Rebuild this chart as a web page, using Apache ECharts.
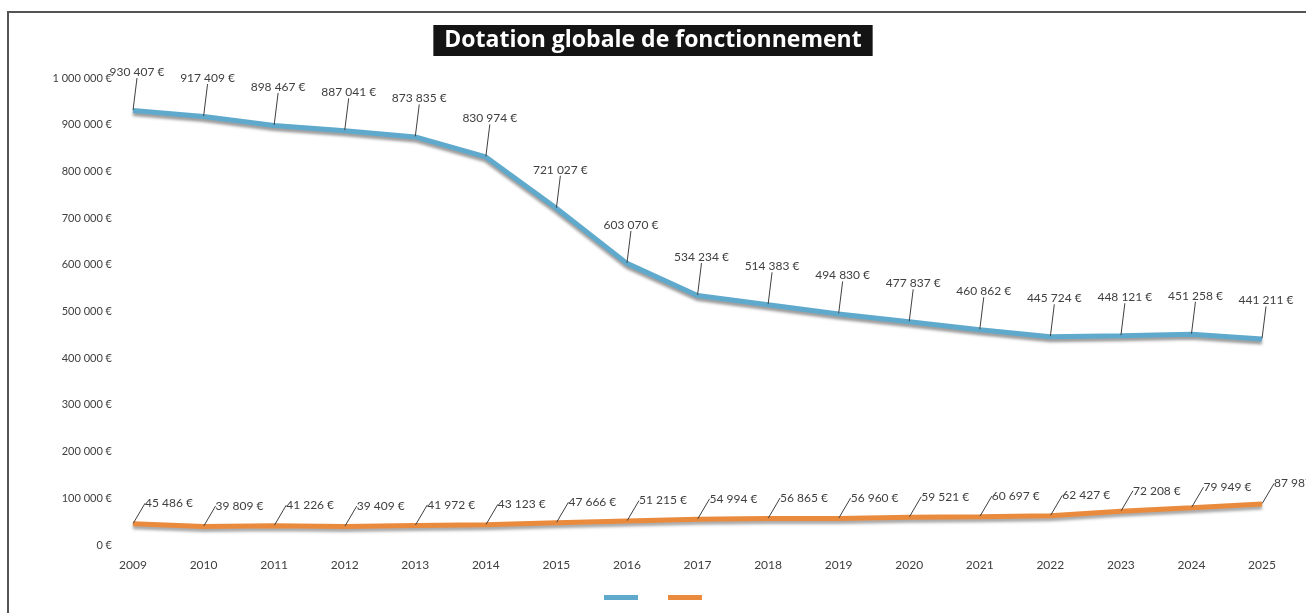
<!DOCTYPE html>
<html>
<head>
<meta charset="utf-8">
<script src="https://cdn.jsdelivr.net/npm/echarts@6/dist/echarts.min.js"></script>
<style>
html, body { margin: 0; padding: 0; background: #fff; }
#main { width: 1306px; height: 613px; }
</style>
</head>
<body>
<div id="main"></div>
<script>
var years = ['2009', '2010', '2011', '2012', '2013', '2014', '2015', '2016', '2017',
	'2018', '2019', '2020', '2021', '2022', '2023', '2024', '2025'];
// dotation (courbe bleue)
var dgf = [930407, 917409, 898467, 887041, 873835, 830974, 721027, 603070, 534234,
	514383, 494830, 477837, 460862, 445724, 448121, 451258, 441211];
// courbe orange
var autre = [45486, 39809, 41226, 39409, 41972, 43123, 47666, 51215, 54994,
	56865, 56960, 59521, 60697, 62427, 72208, 79949, 87987];

function euro(v) {
	var s = String(Math.round(v));
	return s.replace(/\B(?=(\d{3})+(?!\d))/g, ' ') + ' €';
}

var myChart = echarts.init(document.getElementById('main'));

var option = {
	backgroundColor : '#fff',
	textStyle : {
		fontFamily : 'Lato, sans-serif'
	},
	title : {
		text : 'Dotation globale de fonctionnement',
		left : 'center',
		top : 25,
		backgroundColor : '#141414',
		padding : [ 4, 11 ],
		textStyle : {
			color : '#fff',
			fontSize : 23,
			fontWeight : 'bold',
			fontFamily : '"Open Sans", sans-serif'
		}
	},
	graphic : [ {
		type : 'rect',
		shape : { x : 8, y : 12, width : 1320, height : 620 },
		style : { fill : 'none', stroke : '#555', lineWidth : 2 },
		silent : true
	} ],
	legend : {
		bottom : 8,
		itemWidth : 34,
		itemHeight : 5,
		itemGap : 30,
		icon : 'rect',
		formatter : function() { return ''; },
		data : [ 'DGF', 'Autre' ]
	},
	grid : {
		left : 133,
		right : 44,
		top : 78,
		bottom : 68
	},
	xAxis : {
		type : 'category',
		boundaryGap : false,
		data : years,
		axisLine : { show : false },
		axisTick : { show : false },
		axisLabel : { color : '#404040', fontSize : 12, margin : 14 }
	},
	yAxis : {
		type : 'value',
		min : 0,
		max : 1000000,
		interval : 100000,
		splitLine : { show : false },
		axisLine : { show : false },
		axisTick : { show : false },
		axisLabel : {
			color : '#404040',
			fontSize : 11,
			margin : 21,
			formatter : euro
		}
	},
	series : [ {
		name : 'DGF',
		type : 'line',
		data : dgf,
		symbol : 'circle',
		symbolSize : 1,
		color : '#5ea9cc',
		lineStyle : {
			width : 5,
			color : '#5ea9cc',
			shadowColor : 'rgba(0,0,0,0.4)',
			shadowBlur : 3,
			shadowOffsetY : 3
		},
		label : {
			show : true,
			position : 'top',
			distance : 2,
			color : '#404040',
			fontSize : 12,
			formatter : function(p) { return euro(p.value); }
		},
		labelLine : {
			show : true,
			lineStyle : { color : '#404040', width : 1 }
		},
		labelLayout : function(p) {
			return { dx : 4, dy : -30 };
		}
	}, {
		name : 'Autre',
		type : 'line',
		data : autre,
		symbol : 'circle',
		symbolSize : 1,
		color : '#e98a3c',
		lineStyle : {
			width : 5,
			color : '#e98a3c',
			shadowColor : 'rgba(0,0,0,0.35)',
			shadowBlur : 3,
			shadowOffsetY : 3
		},
		label : {
			show : true,
			position : 'top',
			distance : 2,
			color : '#404040',
			fontSize : 12,
			formatter : function(p) { return euro(p.value); }
		},
		labelLine : {
			show : true,
			lineStyle : { color : '#404040', width : 1 }
		},
		labelLayout : function(p) {
			return { dx : 36, dy : -12 };
		}
	} ]
};

myChart.setOption(option);
</script>
</body>
</html>
